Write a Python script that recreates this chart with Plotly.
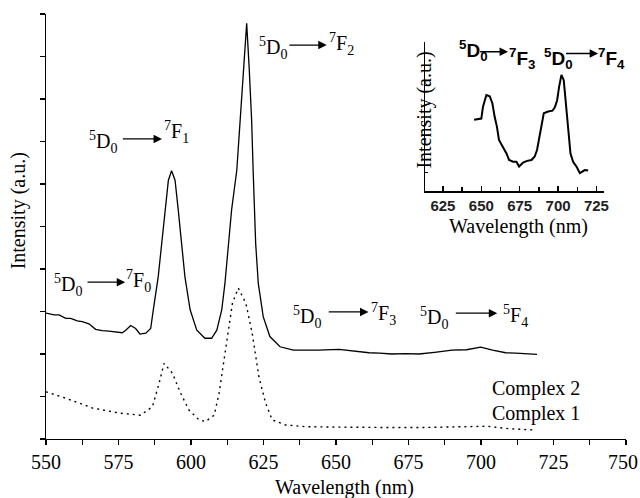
import plotly.graph_objects as go

# ---------------- data ----------------
# Complex 2 (solid)
c2_x = [550, 552.8, 554.5, 556.8, 558.5, 560.8, 562.5, 564.8, 567.1, 569.4, 571.7, 574.0, 576.3,
        577.5, 579.2, 580.9, 582.4, 584.4, 586.1, 587.0, 588.7, 589.9, 591.0, 592.2, 593.3,
        594.5, 595.6, 596.8, 597.9, 599.7, 602.0, 604.8, 607.1, 608.9, 610.6, 611.7, 612.9,
        614.0, 615.8, 616.9, 618.0, 619.2, 620.1, 620.9, 621.5, 622.3, 623.2, 624.9, 627.2,
        630.7, 635.3, 639.5, 644, 651, 656, 661.4, 665, 669.3, 674, 678.6, 684, 690, 695,
        699.9, 704, 708.5, 712, 715.4, 719.3]
c2_y = [2.96, 2.92, 2.92, 2.84, 2.84, 2.78, 2.76, 2.71, 2.58, 2.55, 2.54, 2.52, 2.50,
        2.56, 2.67, 2.60, 2.47, 2.49, 2.60, 3.04, 3.82, 4.60, 5.39, 6.09, 6.31,
        6.09, 5.39, 4.60, 3.82, 3.04, 2.56, 2.37, 2.37, 2.56, 3.04, 3.66, 4.60,
        5.39, 6.33, 7.51, 8.68, 9.78, 8.68, 7.51, 6.17, 4.60, 3.66, 2.88, 2.41,
        2.17, 2.09, 2.09, 2.09, 2.11, 2.07, 2.03, 2.02, 2.00, 2.01, 2.00, 2.04, 2.09, 2.10,
        2.16, 2.09, 2.03, 2.02, 2.00, 1.99]

# Complex 1 (dotted)
c1_x = [550, 556.8, 566, 575.2, 582.6, 586.7, 589, 590.7, 593.6, 596.4, 599.3, 602.8, 605,
        608, 609.7, 612, 614.3, 616.3, 618.9, 621.1, 623.4, 625.7, 628, 632.6, 639.5,
        650, 660, 670, 680, 690, 702, 710, 719]
c1_y = [1.11, 0.96, 0.73, 0.61, 0.56, 0.76, 1.31, 1.78, 1.55, 1.08, 0.68, 0.45, 0.41,
        0.56, 1.08, 2.09, 3.20, 3.55, 3.20, 2.49, 1.47, 0.85, 0.45, 0.33, 0.29,
        0.28, 0.27, 0.27, 0.27, 0.28, 0.30, 0.24, 0.21]

# Inset: 5D0 -> 7F3 / 7F4 region
ins_x = [645.3, 648.5, 650.0, 651.1, 652.2, 653.3, 655.5, 657.2, 658.7, 660.2, 661.5, 664.1,
         666.4, 668.1, 670.7, 672.9, 674.6, 677.2, 679.8, 682.7, 684.8, 686.3, 688.5, 690.7,
         693.5, 696.4, 697.9, 699.4, 700.7, 702.2, 703.7, 704.8, 706.5, 708.1, 709.8, 712.0,
         714.2, 715.7, 717.4, 719.6]
ins_y = [2.21, 2.23, 2.24, 2.51, 2.66, 2.78, 2.75, 2.59, 2.28, 2.05, 1.75, 1.59,
         1.44, 1.29, 1.25, 1.25, 1.14, 1.23, 1.27, 1.29, 1.37, 1.52, 1.98, 2.36,
         2.40, 2.42, 2.50, 2.66, 2.97, 3.24, 3.12, 2.66, 2.05, 1.44, 1.25, 1.14,
         0.99, 1.02, 1.06, 1.05]

main_ticks = [550, 575, 600, 625, 650, 675, 700, 725, 750]
inset_ticks = [625, 650, 675, 700, 725]

SERIF = "Liberation Serif"
SANS = "Liberation Sans"

fig = go.Figure()
fig.add_trace(go.Scatter(x=c2_x, y=c2_y, mode="lines", line=dict(color="black", width=1.3),
                         showlegend=False))
fig.add_trace(go.Scatter(x=c1_x, y=c1_y, mode="lines",
                         line=dict(color="black", width=1.4, dash="2px,4px"), showlegend=False))
fig.add_trace(go.Scatter(x=ins_x, y=ins_y, mode="lines", xaxis="x2", yaxis="y2",
                         line=dict(color="black", width=2), showlegend=False))

ann = []


def label(x, y, text, xref="x", yref="y", size=20, family=SERIF):
    ann.append(dict(x=x, y=y, xref=xref, yref=yref, text=text, showarrow=False,
                    xanchor="left", yanchor="middle",
                    font=dict(family=family, size=size, color="black")))


def arrow(x0, x1, y, xref="x", yref="y"):
    ann.append(dict(x=x1, y=y, ax=x0, ay=y, xref=xref, yref=yref, axref=xref, ayref=yref,
                    text="", showarrow=True, arrowhead=2, arrowsize=1.3, arrowwidth=1.3,
                    arrowcolor="black"))


D0 = "<sup>5</sup>D<sub>0</sub>"
# main transitions
label(552.2, 3.62, D0); arrow(563.8, 577.3, 3.69); label(577.0, 3.72, "<sup>7</sup>F<sub>0</sub>")
label(564.3, 6.98, D0); arrow(576.0, 590.0, 7.06); label(590.0, 7.22, "<sup>7</sup>F<sub>1</sub>")
label(622.6, 9.2, D0); arrow(633.4, 646.8, 9.27); label(647.0, 9.3, "<sup>7</sup>F<sub>2</sub>")
label(634.6, 2.88, D0); arrow(647.0, 661.2, 2.99); label(661.5, 2.93, "<sup>7</sup>F<sub>3</sub>")
label(678.2, 2.85, D0); arrow(690.8, 705.6, 2.96); label(706.9, 2.9, "<sup>5</sup>F<sub>4</sub>")
label(703.0, 1.2, "Complex 2")
label(703.0, 0.61, "Complex 1")

# inset transitions
label(634.3, 3.80, "<b>" + D0 + "</b>", "x2", "y2", 19, SANS)
arrow(648.3, 667.4, 3.77, "x2", "y2")
label(666.5, 3.62, "<b><sup>7</sup>F<sub>3</sub></b>", "x2", "y2", 19, SANS)
label(689.6, 3.62, "<b>" + D0 + "</b>", "x2", "y2", 19, SANS)
arrow(704.2, 726.1, 3.73, "x2", "y2")
label(724.8, 3.62, "<b><sup>7</sup>F<sub>4</sub></b>", "x2", "y2", 19, SANS)

# last main tick label, nudged left so it stays inside the page
ann.append(dict(x=main_ticks[-1], y=0, xref="x", yref="y", text=str(main_ticks[-1]),
                showarrow=False, xanchor="center", yanchor="middle", xshift=-3, yshift=-23,
                font=dict(family=SERIF, size=20, color="black")))

# axis titles as annotations
ann.append(dict(x=0.5155, y=-0.115, xref="paper", yref="paper", text="Wavelength (nm)",
                showarrow=False, xanchor="center", yanchor="middle",
                font=dict(family=SERIF, size=20, color="black")))
ann.append(dict(x=-0.048, y=0.536, xref="paper", yref="paper", text="Intensity (a.u.)",
                showarrow=False, xanchor="center", yanchor="middle", textangle=-90,
                font=dict(family=SERIF, size=20, color="black")))
ann.append(dict(x=0.8143, y=0.4995, xref="paper", yref="paper", text="Wavelength (nm)",
                showarrow=False, xanchor="center", yanchor="middle",
                font=dict(family=SERIF, size=20, color="black")))
ann.append(dict(x=0.6526, y=0.774, xref="paper", yref="paper", text="Intensity (a.u.)",
                showarrow=False, xanchor="center", yanchor="middle", textangle=-90,
                font=dict(family=SERIF, size=20, color="black")))

main_text = [str(v) for v in main_ticks[:-1]] + [""]

fig.update_layout(
    width=640, height=498,
    margin=dict(l=46, r=14, t=14, b=59, autoexpand=False),
    paper_bgcolor="white", plot_bgcolor="rgba(0,0,0,0)",
    font=dict(family=SERIF, size=20, color="black"),
    annotations=ann,
    hovermode=False,
    xaxis=dict(range=[550, 750], tickvals=main_ticks, ticktext=main_text,
               ticks="outside", ticklen=5, tickwidth=1.2, tickcolor="black", automargin=False,
               minor=dict(dtick=12.5, tick0=550, ticks="outside", ticklen=5, tickwidth=1.2,
                          tickcolor="black"),
               showline=True, linecolor="black", linewidth=1.3, showgrid=False,
               zeroline=False, tickfont=dict(family=SERIF, size=20)),
    yaxis=dict(range=[0, 10], dtick=1, tick0=0, ticks="outside", ticklen=5, tickwidth=1.2,
               tickcolor="black", showticklabels=False, showline=True, linecolor="black",
               linewidth=1.3, showgrid=False, zeroline=False, automargin=False),
    xaxis2=dict(domain=[0.6534, 0.962], anchor="y2", range=[613.3, 729.9], automargin=False,
                tickvals=inset_ticks, ticktext=[str(v) for v in inset_ticks],
                ticks="inside", ticklen=5, tickwidth=1.5, tickcolor="black",
                minor=dict(dtick=12.5, tick0=612.5, ticks="inside", ticklen=4, tickwidth=1.5,
                           tickcolor="black"),
                showline=True, linecolor="black", linewidth=1.5, showgrid=False,
                zeroline=False, tickfont=dict(family=SANS, size=15, color="#222", weight="bold")),
    yaxis2=dict(domain=[0.5835, 0.9348], anchor="x2", range=[0.58, 4.0], dtick=1, tick0=0,
                ticks="inside", ticklen=3, tickwidth=1, tickcolor="black", automargin=False,
                showticklabels=False, showline=True, linecolor="black", linewidth=1.2,
                showgrid=False, zeroline=False),
)

# remove the default 8px page margin and scrollbars so the 640x498 figure fills the window
fig.write_html(
    "out.html",
    config={"displayModeBar": False, "staticPlot": True},
    post_script=(
        "document.documentElement.style.margin='0';"
        "document.documentElement.style.overflow='hidden';"
        "document.body.style.margin='0';"
        "document.body.style.overflow='hidden';"
    ),
)
